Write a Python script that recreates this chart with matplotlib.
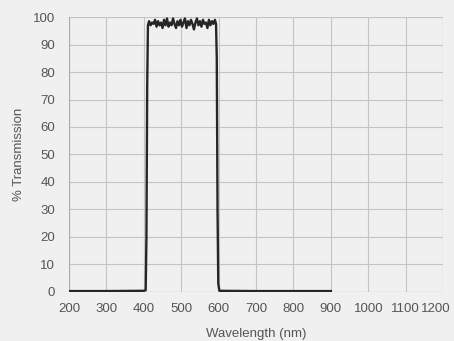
import numpy as np
import matplotlib
matplotlib.use("Agg")
import matplotlib.pyplot as plt
from matplotlib.transforms import ScaledTranslation

plt.rcParams['font.family'] = ['Liberation Sans', 'DejaVu Sans']

# Filter transmission curve (nm, %)
wavelength = [200, 300, 400, 405, 407, 409, 411, 414, 418, 422, 426, 430, 434, 438,
              442, 446, 450, 454, 458, 462, 466, 470, 474, 478, 482, 486, 490, 494,
              498, 502, 506, 510, 514, 518, 522, 526, 530, 534, 538, 542, 546, 550,
              554, 558, 562, 566, 570, 574, 578, 582, 586, 590, 593, 595, 597, 599,
              602, 700, 800, 900]
transmission = [0.3, 0.3, 0.4, 0.6, 20, 75, 97, 98.5, 97, 98, 97.5, 99, 96.5, 98.5,
                97, 98, 96, 99, 97, 99.5, 96.5, 98, 97, 99.5, 97.5, 96, 98.5, 97,
                99, 96.5, 98, 99.5, 96, 98.5, 97, 99, 97.5, 95.5, 98, 99.5, 97, 98.5,
                96.5, 99, 97.5, 98, 96, 99, 97, 98.5, 97.5, 99, 97.5, 85, 30, 3,
                0.4, 0.3, 0.3, 0.3]

xticks = list(range(200, 1201, 100))
yticks = list(range(0, 101, 10))

fig = plt.figure(figsize=(4.54, 3.41), dpi=100)
fig.patch.set_facecolor('#f0f0f0')
ax = fig.add_axes([0.152, 0.144, 0.824, 0.806])
ax.set_facecolor('#f0f0f0')

ax.plot(wavelength, transmission, color='#262626', lw=1.7, zorder=3)

ax.set_xlim(200, 1200)
ax.set_ylim(0, 100)
ax.set_xticks(xticks)
ax.set_yticks(yticks)
ax.grid(True, color='#c4c4c4', lw=0.8)
ax.tick_params(length=0, labelsize=9.5, labelcolor='#555555')
ax.tick_params(axis='x', pad=8)
ax.tick_params(axis='y', pad=10)
for s in ax.spines.values():
    s.set_visible(False)
ax.axvline(200, color='#aaaaaa', lw=0.8)
ax.axvline(1200, color='#c4c4c4', lw=0.8)
ax.axhline(0, color='#aaaaaa', lw=0.8)

# keep the last tick label inside the figure
last = ax.get_xticklabels()[-1]
last.set_transform(last.get_transform() + ScaledTranslation(-7 / 100, 0, fig.dpi_scale_trans))

ax.set_xlabel("Wavelength (nm)", fontsize=9.5, color='#555555', labelpad=9)
ax.set_ylabel("% Transmission", fontsize=9.5, color='#555555', labelpad=6)

fig.savefig("out.png", dpi=100, facecolor=fig.get_facecolor())
